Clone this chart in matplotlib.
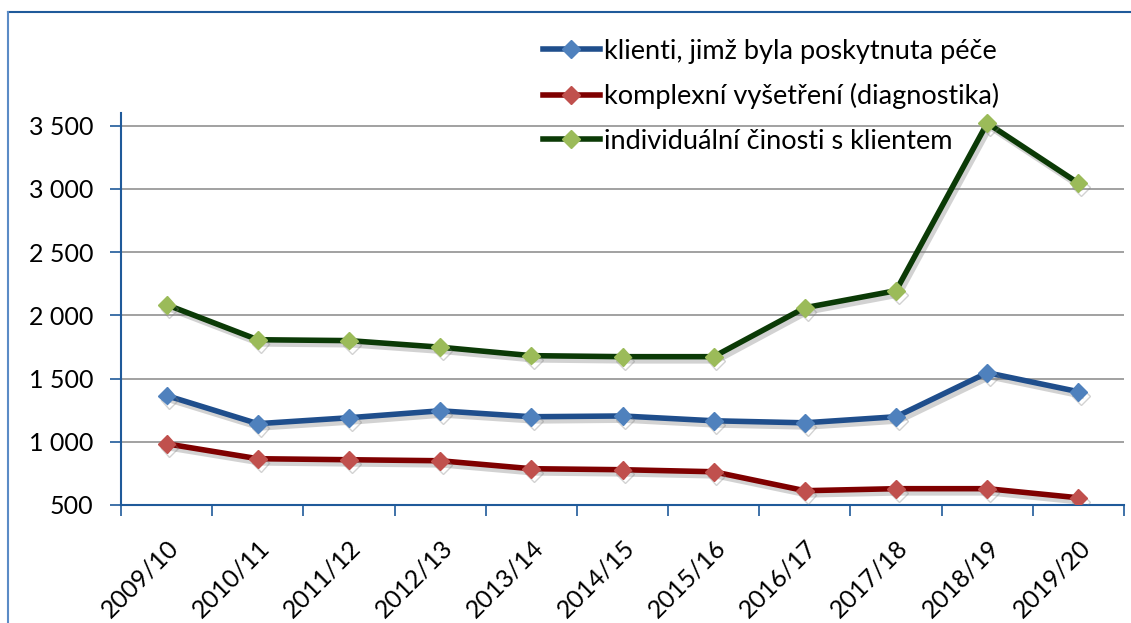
import matplotlib.pyplot as plt
import matplotlib.patheffects as pe
from matplotlib.lines import Line2D
from matplotlib.ticker import FuncFormatter
import numpy as np

years = ["2009/10", "2010/11", "2011/12", "2012/13", "2013/14", "2014/15",
         "2015/16", "2016/17", "2017/18", "2018/19", "2019/20"]
klienti = [1365, 1143, 1190, 1245, 1198, 1204, 1166, 1150, 1198, 1546, 1396]
vysetreni = [984, 866, 858, 850, 787, 779, 763, 613, 629, 629, 557]
cinnosti = [2084, 1807, 1800, 1748, 1681, 1673, 1673, 2060, 2195, 3520, 3045]

labels = ["klienti, jimž byla poskytnuta péče",
          "komplexní vyšetření (diagnostika)",
          "individuální činosti s klientem"]
line_colors = ["#1F4E8C", "#7F0000", "#0B3A06"]
marker_colors = ["#4F81BD", "#C0504D", "#9BBB59"]

plt.rcParams["font.family"] = ["Lato", "DejaVu Sans"]

fig = plt.figure(figsize=(11.31, 6.23), dpi=100)
ax = fig.add_axes([121 / 1131, 1 - 505 / 623, (1124 - 121) / 1131, (505 - 113) / 623])

x = np.arange(len(years))
shadow = [pe.SimpleLineShadow(offset=(2, -3), shadow_color="gray", alpha=0.35), pe.Normal()]
for vals, lc, mc, lab in zip([klienti, vysetreni, cinnosti], line_colors, marker_colors, labels):
    ax.plot(x, vals, color=lc, lw=4, marker="D", markersize=9,
            markerfacecolor=mc, markeredgecolor=mc, label=lab,
            path_effects=shadow, zorder=3)

ax.set_xlim(-0.5, len(years) - 0.5)
ax.set_ylim(500, 3600)
ax.set_yticks(list(range(500, 3501, 500)))
ax.yaxis.set_major_formatter(FuncFormatter(lambda v, p: f"{int(v):,}".replace(",", " ")))
ax.set_xticks(x)
ax.set_xticklabels(years, rotation=45, ha="right", rotation_mode="anchor", fontsize=18)
ax.set_xticks(np.arange(-0.5, len(years), 1), minor=True)
ax.tick_params(axis="x", which="major", length=0, pad=22)
ax.tick_params(axis="x", which="minor", length=8, color="#1F5A9A", width=1.2)
ax.tick_params(axis="y", labelsize=18, length=8, color="#1F5A9A", width=1.2, pad=12)

ax.grid(axis="y", color="#9A9A9A", lw=1.3)
ax.set_axisbelow(True)
for s in ["top", "right"]:
    ax.spines[s].set_visible(False)
for s in ["left", "bottom"]:
    ax.spines[s].set_color("#1F5A9A")
    ax.spines[s].set_linewidth(1.5)

handles = [Line2D([], [], color=lc, lw=4, marker="D", markersize=9,
                  markerfacecolor=mc, markeredgecolor=mc)
           for lc, mc in zip(line_colors, marker_colors)]
fig.legend(handles, labels, loc="upper left", bbox_to_anchor=(532 / 1131, 1 - 28 / 623),
           frameon=False, fontsize=19.5, handlelength=2.1, handletextpad=0.15,
           labelspacing=0.72, borderaxespad=0)

# outer chart border (top and left edges)
fig.add_artist(Line2D([8 / 1131, 1], [1 - 12 / 623, 1 - 12 / 623], color="#1F5A9A", lw=1.5))
fig.add_artist(Line2D([8 / 1131, 8 / 1131], [0, 1 - 12 / 623], color="#5B8BC6", lw=1.5))

fig.savefig("out.png", dpi=100, facecolor="white")
